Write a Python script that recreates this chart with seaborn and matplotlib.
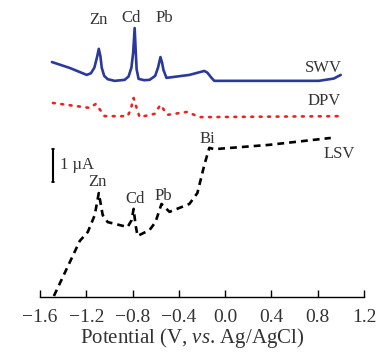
import matplotlib
matplotlib.use("Agg")
import matplotlib.pyplot as plt
import seaborn as sns
import pandas as pd

# ---- data (potential in V, current in µA with arbitrary vertical offsets) ----
swv_x = [-1.497, -1.342, -1.196, -1.160, -1.130, -1.105, -1.092, -1.078, -1.066, -1.045, -1.015,
         -0.955, -0.869, -0.835, -0.810, -0.795, -0.782, -0.772, -0.765, -0.748, -0.700,
         -0.653, -0.605, -0.580, -0.559, -0.545, -0.533, -0.507, -0.309, -0.180, -0.154,
         -0.120, -0.094, -0.008, 0.810, 0.939, 0.999]
swv_y = [7.12, 6.94, 6.73, 6.78, 6.95, 7.30, 7.52, 7.30, 6.94, 6.70, 6.60,
         6.55, 6.58, 6.68, 6.95, 7.40, 8.15, 7.40, 6.90, 6.61, 6.57,
         6.58, 6.70, 6.95, 7.27, 7.10, 6.88, 6.64, 6.73, 6.85, 6.80,
         6.65, 6.55, 6.55, 6.55, 6.62, 6.73]

dpv_x = [-1.488, -1.170, -1.118, -1.041, -0.843, -0.817, -0.791, -0.765, -0.739,
         -0.610, -0.559, -0.498, -0.326, -0.223, 0.982]
dpv_y = [5.88, 5.73, 5.85, 5.48, 5.48, 5.67, 6.03, 5.73, 5.45,
         5.55, 5.82, 5.52, 5.61, 5.45, 5.48]

lsv_x = [-1.480, -1.256, -1.187, -1.127, -1.092, -1.058, -1.015, -0.843, -0.808, -0.791,
         -0.774, -0.757, -0.653, -0.602, -0.550, -0.481, -0.309, -0.240, -0.180, -0.137,
         -0.094, 0.379, 0.913]
lsv_y = [0.03, 1.70, 1.97, 2.48, 3.15, 2.48, 2.27, 2.12, 2.33, 2.67,
         2.18, 1.85, 2.03, 2.27, 2.82, 2.58, 2.82, 3.15, 4.00, 4.52,
         4.48, 4.61, 4.82]

x_ticks = [-1.6, -1.2, -0.8, -0.4, 0.0, 0.4, 0.8, 1.2]
x_tick_labels = ["\u22121.6", "\u22121.2", "\u22120.8", "\u22120.4", "0.0", "0.4", "0.8", "1.2"]

peak_labels_top = ["Zn", "Cd", "Pb"]
peak_labels_lsv = ["Zn", "Cd", "Pb"]

# ---- style ----
sns.set_style("white")
plt.rcParams["font.family"] = ["Liberation Serif", "DejaVu Serif"]
plt.rcParams["mathtext.fontset"] = "custom"
plt.rcParams["mathtext.rm"] = "Liberation Serif"
plt.rcParams["mathtext.it"] = "Liberation Serif:italic"

fig = plt.figure(figsize=(3.83, 3.52), dpi=100)
ax = fig.add_axes([40 / 383, 1 - 297 / 352, 324 / 383, 297 / 352])

swv = pd.DataFrame({"x": swv_x, "y": swv_y})
dpv = pd.DataFrame({"x": dpv_x, "y": dpv_y})
lsv = pd.DataFrame({"x": lsv_x, "y": lsv_y})

sns.lineplot(data=swv, x="x", y="y", sort=False, ax=ax, color="#2b3a9a", lw=1.9)
sns.lineplot(data=dpv, x="x", y="y", sort=False, ax=ax, color="#ee2222", lw=1.9,
             linestyle=(0, (0.7, 2.5)), dash_capstyle="round")
sns.lineplot(data=lsv, x="x", y="y", sort=False, ax=ax, color="black", lw=1.9,
             linestyle=(0, (2.6, 1.9)))

ax.set_xlim(-1.6, 1.2)
ax.set_ylim(0, 9.0)

# labels
fs = 12
tc = "#333333"
for lab, xx, yy in zip(peak_labels_top, [-1.092, -0.817, -0.524], [8.39, 8.45, 8.45]):
    ax.text(xx, yy, lab, ha="center", va="center", fontsize=fs, color=tc)
ax.text(0.853, 6.94, "SWV", ha="center", va="center", fontsize=fs, color=tc)
ax.text(0.853, 5.94, "DPV", ha="center", va="center", fontsize=fs, color=tc)
ax.text(-0.154, 4.79, "Bi", ha="center", va="center", fontsize=fs, color=tc)
ax.text(0.982, 4.33, "LSV", ha="center", va="center", fontsize=fs, color=tc)
for lab, xx, yy in zip(peak_labels_lsv, [-1.101, -0.782, -0.533], [3.48, 2.97, 3.06]):
    ax.text(xx, yy, lab, ha="center", va="center", fontsize=fs, color=tc)

# scale bar 1 µA
ax.plot([-1.488, -1.488], [3.48, 4.48], color="black", lw=1.5)
ax.plot([-1.500, -1.476], [3.48, 3.48], color="black", lw=1.2)
ax.plot([-1.500, -1.476], [4.48, 4.48], color="black", lw=1.2)
ax.text(-1.43, 4.0, "1 \u00b5A", ha="left", va="center", fontsize=fs, color=tc)

# axes
for s in ["left", "right", "top"]:
    ax.spines[s].set_visible(False)
ax.spines["bottom"].set_color("black")
ax.spines["bottom"].set_linewidth(1.0)
ax.set_yticks([])
ax.set_ylabel("")
ax.set_xticks(x_ticks)
ax.set_xticklabels(x_tick_labels)
ax.tick_params(axis="x", direction="in", length=5, width=1, labelsize=14, pad=9,
               colors="black", bottom=True)
ax.tick_params(axis="x", labelcolor=tc)
ax.set_xlabel("")
fig.text(192 / 383, 1 - 338 / 352, "Potential (V, $\\mathit{vs}$. Ag/AgCl)",
         fontsize=15, ha="center", va="center", color=tc)
ax.patch.set_alpha(0)

fig.savefig("out.png", dpi=100)
